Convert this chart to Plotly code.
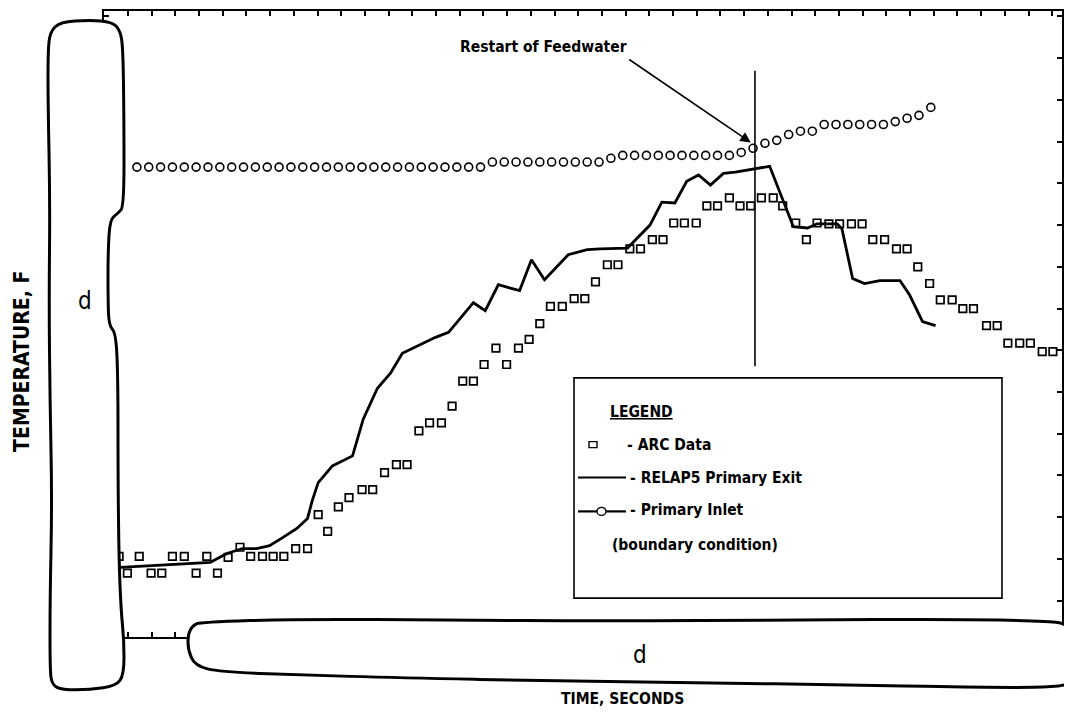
import plotly.graph_objects as go

# ---------------- data (axes are redacted: arbitrary time / temperature units) -------------
inlet_time = [2.1, 3.1, 4.1, 5.1, 6.1, 7.1, 8.1, 9.1, 10.1, 11.1, 12.1, 13.1, 14.1, 15.1, 16.1,
              17.1, 18.1, 19.1, 20.1, 21.1, 22.1, 23.1, 24.1, 25.1, 26.1, 27.1, 28.1, 29.1, 30.1,
              31.1, 32.1, 33.1, 34.1, 35.1, 36.1, 37.1, 38.1, 39.1, 40.1, 41.1, 42.1, 43.1, 44.1,
              45.1, 46.1, 47.1, 48.1, 49.1, 50.1, 51.1, 52.1, 53.1, 54.1, 55.1, 56.1, 57.1, 58.1,
              59.1, 60.1, 61.1, 62.1, 63.1, 64.1, 65.1, 66.1, 67.1, 68.1, 69.1]
inlet_temp = [112.6, 112.6, 112.6, 112.6, 112.6, 112.6, 112.6, 112.6, 112.6, 112.6, 112.6, 112.6,
              112.6, 112.6, 112.6, 112.6, 112.6, 112.6, 112.6, 112.6, 112.6, 112.6, 112.6, 112.6,
              112.6, 112.6, 112.6, 112.6, 112.6, 112.6,
              113.8, 113.8, 113.8, 113.8, 113.8, 113.8, 113.8, 113.8, 113.8, 113.8,
              114.7,
              115.4, 115.4, 115.4, 115.4, 115.4, 115.4, 115.4, 115.4, 115.4, 115.4,
              116.1, 117.1, 118.3, 119.0, 120.4, 121.2, 121.2,
              122.8, 122.8, 122.8, 122.8, 122.8, 122.8,
              123.5, 124.3, 125.0, 126.9]

exit_time = [0.7, 4.1, 7.4, 8.3, 9.7, 11.0, 12.2, 13.3, 14.4, 15.6, 16.5, 16.9, 17.4, 18.6, 20.3,
             21.2, 22.4, 23.5, 24.5, 26.0, 27.3, 28.4, 30.5, 31.5, 32.6, 34.4, 35.4, 36.5, 38.5,
             40.1, 41.2, 43.5, 45.4, 46.4, 47.5, 48.5, 49.5, 50.5, 51.6, 52.6, 54.4, 55.5, 57.5,
             58.7, 59.5, 61.2, 61.6, 62.5, 63.5, 64.8, 66.5, 67.3, 68.4, 69.5]
exit_temp = [16.7, 17.2, 17.6, 17.9, 20.0, 21.2, 21.2, 21.9, 23.8, 26.0, 28.4, 32.7, 37.0, 41.0,
             43.4, 52.2, 59.6, 63.2, 68.0, 70.1, 71.8, 73.0, 80.1, 78.2, 84.4, 83.0, 90.4, 85.6,
             91.6, 92.8, 93.0, 93.2, 98.7, 104.2, 104.0, 109.2, 110.7, 108.3, 111.1, 111.4, 112.3,
             112.8, 98.3, 98.0, 99.0, 99.0, 97.8, 85.9, 84.7, 85.4, 85.4, 82.0, 75.6, 74.6]

arc_time = [0.6, 1.3, 2.3, 3.3, 4.2, 5.1, 6.1, 7.1, 8.0, 8.9, 9.8, 10.8, 11.7, 12.7, 13.6, 14.5,
            15.5, 16.5, 17.4, 18.2, 19.1, 20.0, 21.1, 22.0, 23.0, 24.0, 24.9, 25.9, 26.8, 27.8,
            28.7, 29.6, 30.5, 31.4, 32.4, 33.3, 34.3, 35.2, 36.1, 37.0, 38.0, 39.0, 39.9, 40.8,
            41.8, 42.7, 43.7, 44.6, 45.6, 46.5, 47.4, 48.3, 49.3, 50.2, 51.1, 52.1, 53.0, 53.9,
            54.8, 55.8, 56.6, 57.7, 58.6, 59.5, 60.5, 61.4, 62.4, 63.3, 64.2, 65.2, 66.2, 67.1,
            68.0, 69.0, 69.9, 70.9, 71.8, 72.7, 73.8, 74.7, 75.6, 76.6, 77.5, 78.5, 79.4]
arc_temp = [19.3, 15.3, 19.3, 15.3, 15.3, 19.3, 19.3, 15.3, 19.3, 15.3, 19.1, 21.5, 19.3, 19.3,
            19.3, 19.3, 21.2, 21.2, 29.3, 25.3, 31.2, 33.4, 35.3, 35.3, 39.4, 41.3, 41.3, 49.4,
            51.3, 51.3, 55.3, 61.3, 61.3, 65.3, 69.2, 65.3, 69.2, 71.3, 75.1, 79.2, 79.2, 81.1,
            81.1, 85.1, 89.2, 89.2, 93.0, 93.0, 95.2, 95.2, 99.2, 99.2, 99.2, 103.3, 103.3, 105.2,
            103.3, 103.3, 105.2, 105.2, 103.3, 99.2, 95.2, 99.2, 99.0, 99.0, 99.0, 99.0, 95.2,
            95.2, 93.0, 93.0, 88.7, 84.7, 80.8, 80.8, 78.7, 78.7, 74.6, 74.6, 70.4, 70.4, 70.4,
            68.4, 68.4]

restart_time = 54.26
restart_line_temp = [64.9, 135.7]
arrow_tip = (53.9, 118.5)

X_RANGE = [-0.675, 80.17]
Y_RANGE = [0, 150]

# ---------------- layout geometry (page pixels; page body adds an 8 px offset) ------------
OFF = 8
W, H = 1072 - OFF, 712 - OFF
L, R, T, B = 104, 1062, 9, 637
FONT = "Liberation Sans Narrow, DejaVu Sans Condensed, Arial Narrow, sans-serif"


def px(x, y):
    return (x - L) / (R - L), (B - y) / (B - T)


def smooth_path(pts):
    n = len(pts)
    mids = [((pts[i][0] + pts[(i + 1) % n][0]) / 2, (pts[i][1] + pts[(i + 1) % n][1]) / 2)
            for i in range(n)]

    def f(p):
        a, b = px(*p)
        return f"{a:.5f},{b:.5f}"
    s = "M " + f(mids[-1])
    for i in range(n):
        s += " Q " + f(pts[i]) + " " + f(mids[i])
    return s + " Z"


fig = go.Figure()
fig.add_trace(go.Scatter(x=exit_time, y=exit_temp, mode="lines",
                         line=dict(color="black", width=2.8), showlegend=False))
fig.add_trace(go.Scatter(x=arc_time, y=arc_temp, mode="markers",
                         marker=dict(symbol="square-open", size=7.5, color="black",
                                     line=dict(width=1.7, color="black")), showlegend=False))
fig.add_trace(go.Scatter(x=inlet_time, y=inlet_temp, mode="markers",
                         marker=dict(symbol="circle-open", size=8, color="black",
                                     line=dict(width=1.6, color="black")), showlegend=False))

shapes = []
shapes.append(dict(type="line", xref="x", yref="y", x0=restart_time, x1=restart_time,
                   y0=restart_line_temp[0], y1=restart_line_temp[1],
                   line=dict(color="black", width=1.6)))

# legend box
lx0, ly0 = px(574, 377)
lx1, ly1 = px(1002, 598)
shapes.append(dict(type="rect", xref="paper", yref="paper", x0=lx0, y0=ly1, x1=lx1, y1=ly0,
                   line=dict(color="black", width=1.6), fillcolor="white", layer="above"))
a0, b0 = px(589, 441)
a1, b1 = px(597, 447)
shapes.append(dict(type="rect", xref="paper", yref="paper", x0=a0, y0=b1, x1=a1, y1=b0,
                   line=dict(color="black", width=1.4), layer="above"))
a0, b0 = px(578, 477)
a1, _ = px(626, 477)
shapes.append(dict(type="line", xref="paper", yref="paper", x0=a0, y0=b0, x1=a1, y1=b0,
                   line=dict(color="black", width=2.2), layer="above"))
a0, b0 = px(578, 511)
a1, _ = px(597, 511)
shapes.append(dict(type="line", xref="paper", yref="paper", x0=a0, y0=b0, x1=a1, y1=b0,
                   line=dict(color="black", width=2.2), layer="above"))
a0, _ = px(606, 511)
a1, _ = px(626, 511)
shapes.append(dict(type="line", xref="paper", yref="paper", x0=a0, y0=b0, x1=a1, y1=b0,
                   line=dict(color="black", width=2.2), layer="above"))
a0, b0 = px(597, 507)
a1, b1 = px(606, 515)
shapes.append(dict(type="circle", xref="paper", yref="paper", x0=a0, y0=b1, x1=a1, y1=b0,
                   line=dict(color="black", width=1.4), fillcolor="white", layer="above"))

# redaction boxes
left_box = [(50, 30), (60, 20), (90, 18), (112, 20), (120, 28), (123, 45), (124, 120), (124, 205),
            (118, 212), (110, 218), (108, 250), (108, 300), (109, 325), (116, 332), (118, 380),
            (118, 480), (119, 560), (121, 610), (124, 640), (124, 675), (116, 686), (90, 690),
            (62, 690), (52, 685), (50, 670), (50, 600), (52, 500), (50, 400), (49, 300), (50, 200),
            (48, 100), (48, 50)]
bottom_box = [(200, 622), (300, 619), (450, 620), (600, 621), (800, 620), (950, 619), (1050, 621),
              (1066, 624), (1074, 634), (1078, 655), (1076, 678), (1066, 687), (1000, 688),
              (850, 685), (700, 683), (550, 681), (400, 678), (300, 675), (220, 672), (195, 666),
              (188, 650), (188, 635), (192, 626)]
for box in (left_box, bottom_box):
    shapes.append(dict(type="path", xref="paper", yref="paper", path=smooth_path(box),
                       line=dict(color="black", width=3), fillcolor="white", layer="above"))

annotations = []


def txt(text, x, y, size=15, xanchor="center", angle=0, bold=True):
    a, b = px(x, y)
    annotations.append(dict(text=text, x=a, y=b, xref="paper", yref="paper", showarrow=False,
                            xanchor=xanchor, yanchor="middle", textangle=angle,
                            font=dict(family=FONT, size=size, color="black",
                                      weight="bold" if bold else "normal")))


txt("Restart of Feedwater", 543, 45, size=15.5)
txt("<u>LEGEND</u>", 608, 411, xanchor="left", size=15.5)
txt("- ARC Data", 625, 444, xanchor="left", size=15.5)
txt("- RELAP5 Primary Exit", 628, 477, xanchor="left", size=15.5)
txt("- Primary Inlet", 628, 510, xanchor="left", size=15.5)
txt("(boundary condition)", 610, 545, xanchor="left", size=15.5)
txt("TEMPERATURE, F", 22, 361, size=21, angle=-90)
txt("TIME, SECONDS", 622, 699, size=15.5)
txt("d", 85, 300, size=24, bold=False)
txt("d", 640, 655, size=24, bold=False)

annotations.append(dict(x=arrow_tip[0], y=arrow_tip[1], xref="x", yref="y", ax=-123, ay=-84,
                        axref="pixel", ayref="pixel", text="", showarrow=True, arrowhead=2,
                        arrowsize=1.3, arrowwidth=1.6, arrowcolor="black"))

fig.update_layout(
    width=W, height=H, autosize=False,
    margin=dict(l=L - OFF, r=(W + OFF) - R, t=T - OFF, b=(H + OFF) - B, pad=0),
    paper_bgcolor="white", plot_bgcolor="white",
    shapes=shapes, annotations=annotations, showlegend=False,
    xaxis=dict(range=X_RANGE, showgrid=False, zeroline=False, showline=True, linewidth=2,
               linecolor="black", mirror="ticks", ticks="inside", ticklen=5, tickwidth=1.6,
               tickcolor="black", tick0=1.35, dtick=2, showticklabels=False),
    yaxis=dict(range=Y_RANGE, showgrid=False, zeroline=False, showline=True, linewidth=2,
               linecolor="black", mirror="ticks", ticks="inside", ticklen=5, tickwidth=1.6,
               tickcolor="black", tick0=-1.3, dtick=10, showticklabels=False),
)

fig.write_html("out.html")
